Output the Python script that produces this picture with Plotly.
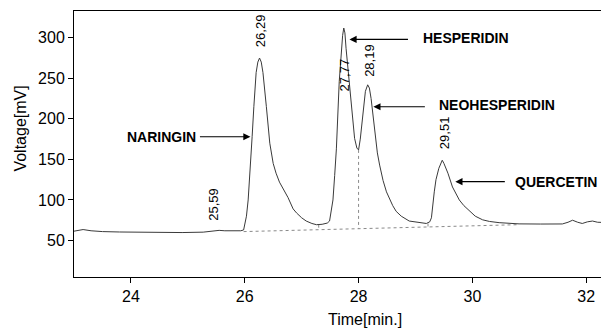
import plotly.graph_objects as go

# Chromatogram trace
time_min = [23.00, 23.08, 23.16, 23.30, 23.50, 23.80, 24.09, 24.40, 24.68, 24.90, 25.27, 25.45, 25.55, 25.65,
            25.80, 25.93, 25.98, 26.03, 26.06, 26.10, 26.13, 26.16, 26.20, 26.23, 26.26, 26.29, 26.32, 26.38,
            26.44, 26.50, 26.55, 26.61, 26.70, 26.76, 26.85, 26.91, 27.00, 27.08, 27.18, 27.26, 27.36, 27.45,
            27.49, 27.52, 27.55, 27.58, 27.61, 27.66, 27.70, 27.72, 27.74, 27.76, 27.78, 27.84, 27.89, 27.93,
            27.97, 28.00, 28.03, 28.06, 28.12, 28.16, 28.19, 28.22, 28.28, 28.33, 28.37, 28.43, 28.49, 28.60,
            28.66, 28.75, 28.89, 29.05, 29.19, 29.25, 29.28, 29.33, 29.36, 29.41, 29.45, 29.47, 29.50, 29.57,
            29.65, 29.77, 29.85, 29.95, 30.05, 30.18, 30.30, 30.47, 30.82, 31.20, 31.58, 31.68, 31.76, 31.85,
            31.93, 32.02, 32.11, 32.20, 32.35, 32.45]
voltage_mv = [61.5, 62.5, 63.5, 62.0, 61.0, 60.5, 60.3, 60.0, 59.5, 59.8, 60.3, 61.5, 62.5, 62.0,
              61.6, 62.0, 63.0, 80.0, 100.0, 140.0, 178.0, 215.0, 257.0, 270.0, 275.0, 270.0, 257.0, 215.0,
              170.0, 145.0, 133.0, 122.0, 110.0, 103.0, 89.0, 84.0, 78.0, 74.0, 71.0, 69.5, 70.0, 71.5,
              74.0, 85.0, 100.0, 130.0, 163.0, 246.0, 287.0, 303.0, 312.0, 306.0, 287.0, 246.0, 205.0, 176.0,
              164.0, 161.7, 175.0, 197.0, 234.0, 242.0, 238.0, 225.0, 184.0, 158.0, 143.0, 124.0, 110.0, 93.0,
              86.0, 80.0, 74.0, 72.0, 71.0, 73.0, 78.0, 110.0, 125.0, 139.0, 147.0, 149.0, 145.0, 133.0,
              116.0, 100.0, 93.0, 86.0, 80.0, 75.5, 73.5, 72.0, 70.5, 70.3, 70.4, 72.5, 75.0, 72.5,
              71.0, 73.0, 74.0, 72.5, 72.0, 72.0]

# Integration baseline and drop lines (dotted)
baseline_t = [25.98, 30.80]
baseline_v = [61.0, 69.5]
drop_t = [28.00, 28.00]
drop_v = [161.7, 64.6]
drop2_t = [27.30, 27.30]
drop2_v = [69.5, 63.5]
drop3_t = [29.22, 29.22]
drop3_v = [71.0, 66.3]

# Peak retention-time labels
peak_labels = ["25,59", "26,29", "27,77", "28,19", "29,51"]
peak_label_t = [25.46, 26.28, 27.75, 28.19, 29.51]
peak_label_v = [94, 309, 254, 272, 183]

# Compound names: arrow tip (on curve), tail offset in px, text position
compounds = ["NARINGIN", "HESPERIDIN", "NEOHESPERIDIN", "QUERCETIN"]
tip_t = [26.10, 27.84, 28.26, 29.70]
tip_v = [178, 298, 215, 122.6]
tail_dx = [-52, 60, 53, 51]
text_t = [25.18, 29.10, 29.38, 30.71]
text_v = [178, 300, 217, 122.6]
text_anchor = ["right", "left", "left", "left"]

y_ticks = [50, 100, 150, 200, 250, 300]
x_ticks = [24, 26, 28, 30, 32]

FONT = "Arial, Liberation Sans, Helvetica, sans-serif"

fig = go.Figure()
fig.add_trace(go.Scatter(x=baseline_t, y=baseline_v, mode="lines",
                         line=dict(color="#8a8a8a", width=1, dash="dot"), hoverinfo="skip"))
for tt, vv in [(drop_t, drop_v), (drop2_t, drop2_v), (drop3_t, drop3_v)]:
    fig.add_trace(go.Scatter(x=tt, y=vv, mode="lines",
                             line=dict(color="#8a8a8a", width=1, dash="dot"), hoverinfo="skip"))
fig.add_trace(go.Scatter(x=time_min, y=voltage_mv, mode="lines",
                         line=dict(color="#3a3a3a", width=1)))

annotations = []
for lab, t, v in zip(peak_labels, peak_label_t, peak_label_v):
    annotations.append(dict(x=t, y=v, xref="x", yref="y", text=lab, showarrow=False,
                            textangle=-90, font=dict(family=FONT, size=13, color="black"),
                            xanchor="center", yanchor="middle"))
for name, tx, tv, dx, nx, nv, anc in zip(compounds, tip_t, tip_v, tail_dx, text_t, text_v, text_anchor):
    annotations.append(dict(x=tx, y=tv, xref="x", yref="y", text="", showarrow=True,
                            ax=dx, ay=0, arrowhead=2, arrowsize=1.3, arrowwidth=1.1,
                            arrowcolor="black", standoff=0))
    annotations.append(dict(x=nx, y=nv, xref="x", yref="y", text="<b>%s</b>" % name, showarrow=False,
                            font=dict(family=FONT, size=14, color="black"),
                            xanchor=anc, yanchor="middle"))
annotations.append(dict(x=-0.099, y=0.558, xref="paper", yref="paper", text="Voltage[mV]",
                        showarrow=False, textangle=-90, font=dict(family=FONT, size=16, color="black"),
                        xanchor="center", yanchor="middle"))
annotations.append(dict(x=0.544, y=-0.158, xref="paper", yref="paper", text="Time[min.]",
                        showarrow=False, font=dict(family=FONT, size=16, color="black"),
                        xanchor="center", yanchor="middle"))

# The page body adds an 8px offset; size and margins compensate for it.
fig.update_layout(
    width=601, height=321,
    margin=dict(l=66, r=0, t=3, b=52),
    paper_bgcolor="white", plot_bgcolor="white",
    showlegend=False,
    annotations=annotations,
    xaxis=dict(range=[23.0, 32.4], tickvals=x_ticks, ticktext=[str(v) for v in x_ticks],
               showgrid=False, zeroline=False, showline=True, linecolor="black", linewidth=1,
               mirror=True, ticks="outside", ticklen=5, tickcolor="black",
               tickfont=dict(family=FONT, size=16, color="black")),
    yaxis=dict(range=[5, 333], tickvals=y_ticks, ticktext=[str(v) for v in y_ticks],
               showgrid=False, zeroline=False, showline=True, linecolor="black", linewidth=1,
               ticks="outside", ticklen=5, tickcolor="black",
               tickfont=dict(family=FONT, size=16, color="black")),
)

fig.write_html("out.html")
